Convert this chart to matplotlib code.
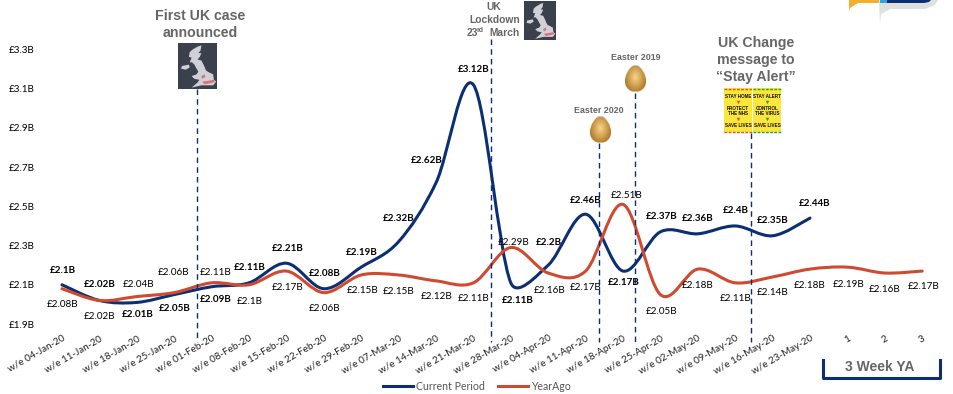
import numpy as np
import matplotlib
matplotlib.use("Agg")
import matplotlib.pyplot as plt
from matplotlib.path import Path
from matplotlib.patches import PathPatch, Rectangle, Polygon
from matplotlib.lines import Line2D

weeks = ["w/e 04-Jan-20", "w/e 11-Jan-20", "w/e 18-Jan-20", "w/e 25-Jan-20", "w/e 01-Feb-20",
         "w/e 08-Feb-20", "w/e 15-Feb-20", "w/e 22-Feb-20", "w/e 29-Feb-20", "w/e 07-Mar-20",
         "w/e 14-Mar-20", "w/e 21-Mar-20", "w/e 28-Mar-20", "w/e 04-Apr-20", "w/e 11-Apr-20",
         "w/e 18-Apr-20", "w/e 25-Apr-20", "w/e 02-May-20", "w/e 09-May-20", "w/e 16-May-20",
         "w/e 23-May-20", "1", "2", "3"]
current = [2.10, 2.02, 2.01, 2.05, 2.09, 2.11, 2.21, 2.08, 2.19, 2.32, 2.62, 3.12,
           2.11, 2.20, 2.46, 2.17, 2.37, 2.36, 2.40, 2.35, 2.44]
year_ago = [2.08, 2.02, 2.04, 2.06, 2.11, 2.10, 2.17, 2.06, 2.15, 2.15, 2.12, 2.11,
            2.29, 2.16, 2.17, 2.51, 2.05, 2.18, 2.11, 2.14, 2.18, 2.19, 2.16, 2.17]
y_ticks = [1.9, 2.1, 2.3, 2.5, 2.7, 2.9, 3.1, 3.3]

# label offsets from the point, in pixels
cur_off = [(1, 14.5), (0, 15.7), (1, -12), (1, -14), (4, -13), (1, 15.5), (1, 15), (1, 15.4), (1, 15),
           (0, 23), (-9, 22), (0, 15.5), (7, -17.5), (1, 23), (0, 14), (1, -11), (1, 15), (0, 15.5),
           (1, 15), (0, 15.5), (5, 15)]
ya_off = [(1, -16), (0, -16), (2, 12), (-1, 20), (4, 10.5), (1, -16.5), (1, -16), (1, -16), (1, -16),
          (0, -17), (1, -15.5), (0, -15.5), (3, 5), (1, -17), (0, -16), (4, 9), (1, -17), (0, -16),
          (0, -15.5), (0, -16), (0, -16), (1, -17), (0, -16), (1, -15)]

NAVY = "#0c2f73"
RED = "#cf4a30"
GREY = "#666666"
W, H = 954, 394
LABEL_FONT = "Lato"
HEAD_FONT = "Liberation Sans"
FS = 7.1
PX_X, PX_Y = 37.4, 196.0  # pixels per week, per £1B

plt.rcParams["font.family"] = LABEL_FONT


def seg_len(a, b):
    return np.hypot((b[0] - a[0]) * PX_X, (b[1] - a[1]) * PX_Y)


def smooth_path(ys):
    # Excel style smoothed line: Catmull-Rom beziers, with the handle shortened
    # next to a much longer segment so it doesn't overshoot as far
    pts = np.column_stack([np.arange(len(ys)), ys])
    verts = [pts[0]]
    codes = [Path.MOVETO]
    for i in range(len(pts) - 1):
        p0 = pts[max(i - 1, 0)]
        p1 = pts[i]
        p2 = pts[i + 1]
        p3 = pts[min(i + 2, len(pts) - 1)]
        here = seg_len(p1, p2)
        out_k = min(1, 2.4 * here / max(seg_len(p0, p1), 1e-6)) if i > 0 else 1
        in_k = min(1, 2.4 * here / max(seg_len(p2, p3), 1e-6)) if i < len(pts) - 2 else 1
        verts += [p1 + out_k * (p2 - p0) / 6, p2 - in_k * (p3 - p1) / 6, p2]
        codes += [Path.CURVE4] * 3
    return Path(verts, codes)


def value_labels(ax, vals, offs, bold):
    for i, (v, off) in enumerate(zip(vals, offs)):
        txt = f"£{v:.2f}".rstrip("0") + "B"
        # pixels to points at dpi 100
        ax.annotate(txt, (i, v), xytext=(off[0] * 0.72, off[1] * 0.72), textcoords="offset points",
                    ha="center", va="center", fontsize=FS, color="black",
                    fontweight="bold" if bold else "normal", zorder=6)


def uk_map(pa, x0, y0, w, h):
    pa.add_patch(Rectangle((x0, y0), w, h, color="#3a404c", lw=0, zorder=3))
    gb = [(.42, .12), (.5, .08), (.6, .05), (.58, .16), (.52, .22), (.6, .22), (.56, .3), (.5, .36), (.6, .38),
          (.66, .48), (.72, .6), (.8, .64), (.9, .68), (.92, .8), (.98, .84), (.9, .92), (.6, .92), (.35, .97),
          (.5, .86), (.55, .8), (.42, .78), (.35, .72), (.48, .68), (.52, .62), (.47, .55), (.42, .47),
          (.36, .42), (.3, .42), (.35, .32), (.28, .3), (.3, .2), (.36, .15)]
    ni = [(.1, .5), (.28, .47), (.3, .53), (.2, .58), (.08, .56)]
    for shape in (gb, ni):
        pa.add_patch(Polygon([(x0 + a * w, y0 + b * h) for a, b in shape], color="#cfd1d6", lw=0, zorder=4))
    pa.add_patch(Polygon([(x0 + a * w, y0 + b * h) for a, b in [(.62, .84), (.92, .8), (.95, .85), (.68, .9)]],
                         color="#d8737d", lw=0, zorder=5))
    pa.add_patch(Polygon([(x0 + a * w, y0 + b * h) for a, b in [(.6, .72), (.68, .68), (.7, .74), (.62, .78)]],
                         color="#d8737d", lw=0, zorder=5))


def egg(pa, cx, cy, w, h):
    ny, nx = 60, 50
    yy, xx = np.mgrid[-1:1:ny * 1j, -1:1:nx * 1j]
    # narrower at the top
    squeeze = 1 - 0.22 * (-yy)
    inside = (xx / squeeze) ** 2 + yy ** 2 <= 1
    shade = np.clip(1 - np.hypot(xx * 1.1, yy + 0.1) * 0.8, 0, 1)
    dark = np.array([0.68, 0.45, 0.13])
    light = np.array([0.97, 0.84, 0.55])
    img = np.zeros((ny, nx, 4))
    img[..., :3] = dark + (light - dark) * shade[..., None]
    img[..., 3] = inside
    pa.imshow(img, extent=(cx - w / 2, cx + w / 2, cy + h / 2, cy - h / 2), zorder=4,
              aspect="auto", interpolation="bilinear")


def poster(pa, x0, y0, lines, edge):
    pa.add_patch(Rectangle((x0, y0), 28, 44, color="#fbe63a", lw=0, zorder=3))
    pa.add_line(Line2D([x0, x0 + 28], [y0 + .5, y0 + .5], color=edge, lw=1, ls=(0, (2, 1)), zorder=4))
    pa.add_line(Line2D([x0, x0 + 28], [y0 + 43.5, y0 + 43.5], color=edge, lw=1, ls=(0, (2, 1)), zorder=4))
    for yy, s in lines:
        pa.text(x0 + 14, y0 + yy, s, fontsize=3.3, fontweight="bold", family=HEAD_FONT, ha="center",
                va="center", color="#111111", zorder=5)
    for yy in (14, 31):
        pa.plot([x0 + 14], [y0 + yy], marker="v", ms=2.5, color=edge, mew=0, zorder=5)


fig = plt.figure(figsize=(W / 100, H / 100), dpi=100)

# category axis: first point at 62px, 37.4px per week; 1.9 at 324px, 3.3 at 49.5px
left = 62 - 0.5 * 37.4
right = 62 + 23.5 * 37.4
ax = fig.add_axes([left / W, 1 - 324 / H, (right - left) / W, (324 - 49.5) / H])
ax.set_xlim(-0.5, 23.5)
ax.set_ylim(1.9, 3.3)
for s in ax.spines.values():
    s.set_visible(False)
ax.patch.set_alpha(0)

ax.add_patch(PathPatch(smooth_path(current), fc="none", ec=NAVY, lw=2.2, capstyle="round", zorder=3))
ax.add_patch(PathPatch(smooth_path(year_ago), fc="none", ec=RED, lw=2.2, capstyle="round", zorder=4))
value_labels(ax, current, cur_off, True)
value_labels(ax, year_ago, ya_off, False)

ax.set_yticks(y_ticks)
ax.set_yticklabels([f"£{t:.1f}B" for t in y_ticks], fontsize=FS)
ax.set_xticks(range(len(weeks)))
ax.set_xticklabels(weeks, rotation=30, ha="right", rotation_mode="anchor", fontsize=FS, color="#222222")
ax.tick_params(length=0)
ax.tick_params(axis="y", pad=6)
ax.tick_params(axis="x", pad=7)

handles = [Line2D([], [], color=NAVY, lw=2.2), Line2D([], [], color=RED, lw=2.2)]
fig.legend(handles, ["Current Period", "YearAgo"], loc="center", bbox_to_anchor=(477 / W, 1 - 386 / H), ncol=2,
           frameon=False, fontsize=7.6, labelcolor="#555555", handlelength=2.84, handletextpad=0.28,
           columnspacing=1.3, borderpad=0)

# overlay in reference pixels for the call-outs
pa = fig.add_axes([0, 0, 1, 1])
pa.set_xlim(0, W)
pa.set_ylim(H, 0)
pa.axis("off")
pa.patch.set_alpha(0)

event_x = [197, 491.5, 599, 635, 751]
event_top = [89, 39, 143, 93, 133]
for ex, et in zip(event_x, event_top):
    pa.plot([ex, ex], [et, 342], color=NAVY, lw=1.0, ls=(0, (4, 3)), zorder=2)

pa.text(200.5, 24.5, "First UK case\nannounced", family=HEAD_FONT, fontweight="bold", fontsize=10.2, color=GREY,
        ha="center", va="center", linespacing=1.25)
uk_map(pa, 178, 43, 39, 46)

pa.text(494, 7, "UK", family=HEAD_FONT, fontweight="bold", fontsize=7.4, color=GREY, ha="center", va="center")
pa.text(495, 20, "Lockdown", family=HEAD_FONT, fontweight="bold", fontsize=7.4, color=GREY, ha="center", va="center")
pa.text(467, 33, "23", family=HEAD_FONT, fontweight="bold", fontsize=7.4, color=GREY, ha="left", va="center")
pa.text(477, 30.5, "rd", family=HEAD_FONT, fontweight="bold", fontsize=5, color=GREY, ha="left", va="center")
pa.text(489.5, 33, "March", family=HEAD_FONT, fontweight="bold", fontsize=7.4, color=GREY, ha="left", va="center")
uk_map(pa, 524, 1, 32, 39)

pa.text(635.5, 57, "Easter 2019", family=HEAD_FONT, fontweight="bold", fontsize=6.4, color=GREY, ha="center", va="center")
pa.text(598.5, 110.5, "Easter 2020", family=HEAD_FONT, fontweight="bold", fontsize=6.4, color=GREY, ha="center", va="center")
egg(pa, 635.5, 78, 21, 27)
egg(pa, 600.5, 129.5, 21, 27)

pa.text(756, 60, "UK Change\nmessage to\n“Stay Alert”", family=HEAD_FONT, fontweight="bold", fontsize=10.2, color=GREY,
        ha="center", va="center", linespacing=1.25)
poster(pa, 724, 88, [(8.5, "STAY HOME"), (20, "PROTECT"), (25, "THE NHS"), (37, "SAVE LIVES")], "#e2501f")
poster(pa, 753.5, 88, [(8.5, "STAY ALERT"), (20, "CONTROL"), (25.5, "THE VIRUS"), (37, "SAVE LIVES")], "#2ca02c")

# 3 week bracket
pa.plot([823, 823, 940, 940], [360, 378, 378, 360], color=NAVY, lw=2.2, solid_joinstyle="round", zorder=3)
pa.text(880, 367, "3 Week YA", family=HEAD_FONT, fontweight="bold", fontsize=10, color=GREY, ha="center", va="center")

# logo corner
pa.add_patch(Polygon([(849, 0), (881, 0), (881, 3), (858, 3), (850, 8), (849, 12)], color="#f0b030", lw=0))
pa.add_patch(Polygon([(879, 0), (938, 0), (935, 5), (925, 9), (890, 9), (881, 14), (880, 24)], color="#dfe0de", lw=0))
pa.add_patch(Rectangle((880, 0), 7, 3, color="#2aa8dc", lw=0, zorder=3))
pa.add_patch(Polygon([(887, 0), (931, 0), (929, 2), (924, 3), (887, 3)], color=NAVY, lw=0, zorder=3))
pa.set_xlim(0, W)
pa.set_ylim(H, 0)

fig.savefig("out.png", dpi=100)
